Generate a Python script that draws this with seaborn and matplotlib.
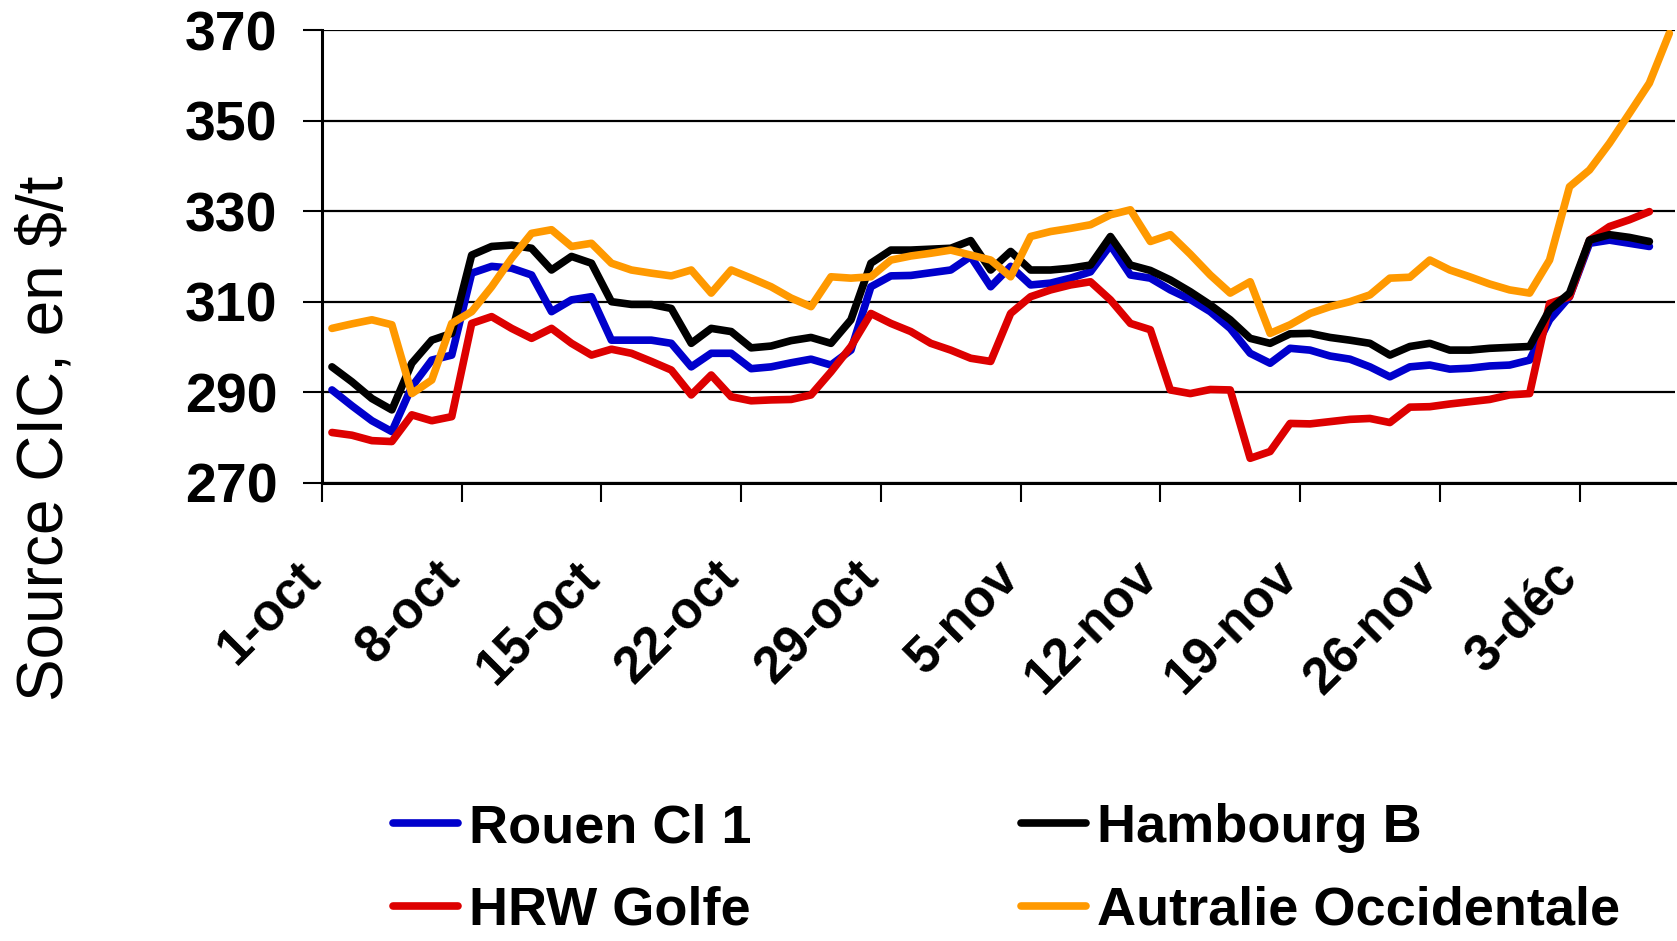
import matplotlib

matplotlib.use("Agg")
import matplotlib.pyplot as plt
import matplotlib.transforms as mtransforms
import numpy as np
import pandas as pd
import seaborn as sns

# Daily prices, $/t (1 Oct 2007 onwards)
rouen = [290.5, 287.0, 283.7, 281.3, 291.2, 297.1, 298.2, 316.3, 317.8, 317.4,
         315.9, 307.8, 310.4, 311.1, 301.5, 301.5, 301.5, 300.8, 295.6, 298.6,
         298.6, 295.2, 295.6, 296.5, 297.3, 296.0, 299.3, 313.3, 315.7, 315.8,
         316.4, 317.0, 320.0, 313.3, 317.8, 313.7, 314.1, 315.2, 316.6, 322.5,
         315.9, 315.2, 312.6, 310.5, 307.8, 304.1, 298.6, 296.4, 299.7, 299.3,
         298.0, 297.3, 295.6, 293.4, 295.6, 296.0, 295.1, 295.3, 295.8, 296.0,
         297.1, 306.0, 311.1, 322.9, 323.6, 322.9, 322.2]
hambourg = [295.6, 292.3, 288.6, 286.1, 296.4, 301.5, 303.0, 320.3, 322.2, 322.5,
            321.8, 317.0, 320.0, 318.5, 310.0, 309.4, 309.4, 308.5, 300.8, 304.1,
            303.4, 299.8, 300.2, 301.4, 302.1, 300.8, 306.0, 318.5, 321.4, 321.4,
            321.6, 321.8, 323.5, 317.0, 321.1, 317.0, 317.0, 317.4, 318.1, 324.4,
            318.1, 316.9, 314.8, 312.2, 309.3, 306.0, 301.9, 300.8, 302.9, 303.0,
            302.1, 301.5, 300.8, 298.2, 300.1, 300.8, 299.3, 299.3, 299.7, 299.9,
            300.1, 308.2, 311.9, 323.6, 324.8, 324.2, 323.3]
hrw = [281.1, 280.5, 279.3, 279.1, 285.0, 283.7, 284.6, 305.2, 306.7, 304.1,
       301.9, 304.1, 300.8, 298.2, 299.5, 298.6, 296.8, 294.9, 289.4, 293.8,
       289.0, 288.1, 288.3, 288.4, 289.4, 294.5, 300.1, 307.4, 305.2, 303.4,
       300.8, 299.3, 297.5, 296.8, 307.4, 311.1, 312.6, 313.7, 314.4, 310.4,
       305.2, 303.8, 290.5, 289.7, 290.6, 290.5, 275.4, 276.9, 283.1, 283.0,
       283.5, 284.0, 284.2, 283.3, 286.7, 286.8, 287.4, 287.9, 288.4, 289.4,
       289.7, 309.6, 311.1, 323.6, 326.6, 328.1, 329.9]
australie = [304.1, 305.1, 306.0, 304.9, 289.7, 292.7, 305.2, 307.8, 313.3, 319.6,
             325.1, 325.9, 322.2, 322.9, 318.5, 317.0, 316.3, 315.7, 317.0, 311.9,
             317.0, 315.2, 313.3, 310.8, 308.9, 315.5, 315.2, 315.5, 319.2, 320.1,
             320.7, 321.4, 320.3, 319.2, 315.5, 324.4, 325.5, 326.2, 327.0, 329.2,
             330.3, 323.3, 324.8, 320.5, 315.9, 311.9, 314.4, 303.0, 304.9, 307.4,
             308.9, 310.0, 311.5, 315.2, 315.4, 319.2, 317.0, 315.5, 313.9, 312.6,
             311.9, 319.2, 335.4, 339.1, 345.0, 351.6, 358.3, 369.3]

series_names = ["Rouen Cl 1", "HRW Golfe", "Hambourg B", "Autralie Occidentale"]
series_values = [rouen, hrw, hambourg, australie]
colors = {"Rouen Cl 1": "#0000CC", "Hambourg B": "#000000",
          "HRW Golfe": "#DD0000", "Autralie Occidentale": "#FF9900"}

tick_dates = pd.date_range("2007-10-01", periods=10, freq="7D")
tick_labels = ["1-oct", "8-oct", "15-oct", "22-oct", "29-oct",
               "5-nov", "12-nov", "19-nov", "26-nov", "3-déc"]
y_ticks = [270, 290, 310, 330, 350, 370]

frames = []
for name, vals in zip(series_names, series_values):
    dates = pd.date_range("2007-10-01 12:00", periods=len(vals), freq="D")
    frames.append(pd.DataFrame({"date": dates, "prix": vals, "serie": name}))
df = pd.concat(frames, ignore_index=True)

sns.set_style("white")
plt.rcParams["font.family"] = ["Liberation Sans", "DejaVu Sans"]
plt.rcParams.update({"text.color": "black", "xtick.color": "black",
                     "ytick.color": "black", "axes.labelcolor": "black"})

fig = plt.figure(figsize=(16.77, 9.41), dpi=100)
ax = fig.add_axes([0.192, 0.487, 0.807, 0.481])

sns.lineplot(data=df, x="date", y="prix", hue="serie", hue_order=series_names,
             palette=colors, linewidth=5.5, legend=False, ax=ax)
for line in ax.get_lines():
    line.set_solid_joinstyle("round")
    line.set_solid_capstyle("round")

ax.set_ylim(270, 370)
ax.set_xlim(pd.Timestamp("2007-10-01"), pd.Timestamp("2007-10-01") + pd.Timedelta(days=67.8))
ax.set_yticks(y_ticks)
ax.set_yticklabels([str(v) for v in y_ticks], fontsize=40, fontweight="bold")
ax.set_xticks(tick_dates)
ax.set_xticklabels(tick_labels, fontsize=37, fontweight="bold",
                   rotation=45, ha="right", va="top", rotation_mode="anchor")
ax.tick_params(axis="y", direction="out", length=14, width=1.5, pad=18, left=True)
ax.tick_params(axis="x", direction="out", length=14, width=1.5, pad=36, bottom=True)
shift = mtransforms.ScaledTranslation(-0.27, 0, fig.dpi_scale_trans)
for lab in ax.get_xticklabels():
    lab.set_transform(lab.get_transform() + shift)
ax.grid(axis="y", color="black", linewidth=1.6)
ax.set_axisbelow(True)
for side in ["top", "right"]:
    ax.spines[side].set_visible(False)
for side in ["left", "bottom"]:
    ax.spines[side].set_linewidth(2.2)
    ax.spines[side].set_color("black")
ax.set_xlabel("")
ax.set_ylabel("")

fig.text(0.027, 0.534, "Source CIC, en $/t", rotation=90, fontsize=46,
         ha="center", va="center")

handles = ax.get_lines()[:4]
fig.legend(handles, series_names, ncol=2, loc="lower left",
           bbox_to_anchor=(0.2055, -0.046), frameon=False,
           prop={"size": 39, "weight": "bold"}, handlelength=1.2,
           handletextpad=0.2, columnspacing=4.98, labelspacing=0.6)

fig.savefig("out.png", dpi=100)
